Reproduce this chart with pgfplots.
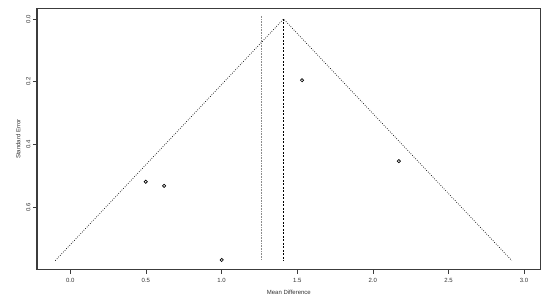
\documentclass[border=0pt]{standalone}
\usepackage{pgfplots}
\pgfplotsset{compat=1.18}
\usepackage{fontspec}
\setmainfont{Liberation Sans}
\definecolor{boxc}{RGB}{60,60,60}
\definecolor{refc}{RGB}{140,140,140}
\definecolor{txtc}{RGB}{50,50,50}
\begin{document}
\begin{tikzpicture}
\path (0pt,0pt) rectangle (550pt,304pt);
\begin{axis}[
  at={(37pt,34pt)}, anchor=south west,
  scale only axis, width=503.7pt, height=261.7pt,
  xmin=-0.22, xmax=3.11, ymin=-0.034, ymax=0.80,
  y dir=reverse,
  xtick={0,0.5,1,1.5,2,2.5,3},
  ytick={0,0.2,0.4,0.6},
  xticklabels={0.0,0.5,1.0,1.5,2.0,2.5,3.0},
  yticklabels={0.0,0.2,0.4,0.6},
  tick align=outside, major tick length=4pt,
  xtick pos=lower, ytick pos=left,
  tick style={boxc, line width=0.6pt},
  axis line style={boxc, line width=1pt},
  ticklabel style={font=\fontsize{6}{7}\selectfont, text=txtc},
  /pgf/number format/assume math mode=true,
  yticklabel style={rotate=90, anchor=south, yshift=-1pt},
  xticklabel style={yshift=-1pt},
  xlabel={Mean Difference}, ylabel={Standard Error},
  label style={font=\fontsize{6}{7}\selectfont, text=txtc},
  xlabel style={at={(axis description cs:0.5,0)}, anchor=north, yshift=-17pt},
  ylabel style={at={(axis description cs:0,0.5)}, anchor=south, rotate=0, yshift=13pt},
]
\addplot[black, dash pattern=on 0.7pt off 1.6pt, line width=0.7pt] coordinates {(-0.099,0.77) (1.41,0) (2.919,0.77)};
\addplot[black, dash pattern=on 2pt off 1.5pt, line width=0.5pt] coordinates {(1.41,0) (1.41,0.77)};
\addplot[refc, dash pattern=on 0.6pt off 1pt, line width=0.5pt] coordinates {(1.263,-0.01) (1.263,0.766)};
\addplot[only marks, mark=o, mark size=1.6pt, black, line width=0.7pt] coordinates {
(0.499,0.519) (0.620,0.532) (1.001,0.768) (1.532,0.195) (2.172,0.453)};
\end{axis}
\draw[boxc, line width=1pt] (37pt,34pt) rectangle (540.7pt,295.7pt);
\foreach \tx in {70.28,145.91,221.54,297.17,372.80,448.43,524.06}
  \draw[boxc, line width=0.6pt] (\tx pt,34pt) -- (\tx pt,30pt);
\foreach \ty in {285.03,222.27,159.51,96.75}
  \draw[boxc, line width=0.6pt] (37pt,\ty pt) -- (33pt,\ty pt);
\end{tikzpicture}
\end{document}
